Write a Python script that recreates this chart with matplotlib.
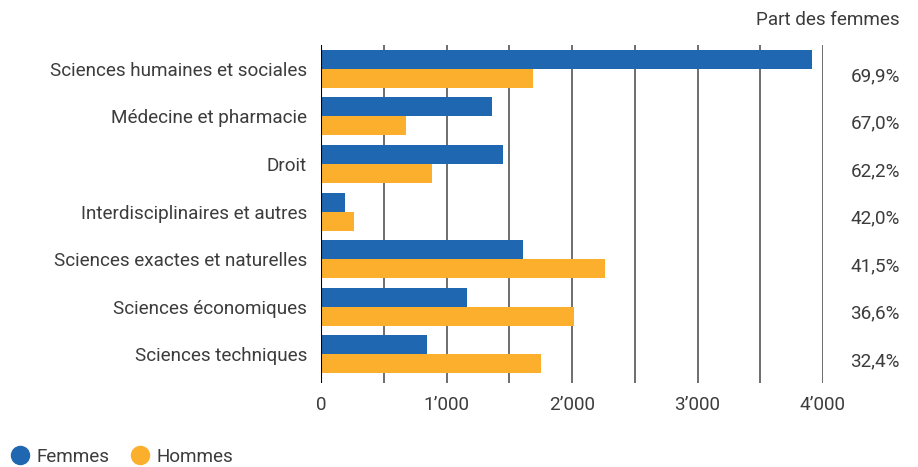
import numpy as np
import matplotlib.pyplot as plt
from matplotlib.lines import Line2D
from matplotlib.transforms import blended_transform_factory

plt.rcParams['font.family'] = ['Roboto', 'DejaVu Sans']

categories = ['Sciences humaines et sociales', 'Médecine et pharmacie', 'Droit',
              'Interdisciplinaires et autres', 'Sciences exactes et naturelles',
              'Sciences économiques', 'Sciences techniques']
femmes = [3910, 1365, 1450, 190, 1610, 1160, 845]
hommes = [1690, 675, 885, 265, 2265, 2015, 1750]
part_femmes = ['69,9%', '67,0%', '62,2%', '42,0%', '41,5%', '36,6%', '32,4%']
xticks = [0, 1000, 2000, 3000, 4000]
xticklabels = ['0', '1\u2019000', '2\u2019000', '3\u2019000', '4\u2019000']

blue = '#1f67b1'
orange = '#fcaf2d'
txt = '#3c3c3c'
fs = 13.6

fig = plt.figure(figsize=(9.18, 4.67), dpi=100)
ax = fig.add_axes([321 / 918, 1 - 383 / 467, (823 - 321) / 918, (383 - 45) / 467])

y = np.arange(len(categories))
h = 0.4
ax.barh(y - h / 2, femmes, height=h, color=blue, zorder=3)
ax.barh(y + h / 2, hommes, height=h, color=orange, zorder=3)

ax.set_xlim(0, 4000)
ax.set_ylim(6.61, -0.505)

for v in np.arange(500, 4001, 500):
    ax.axvline(v, color='#555555', lw=1.2, zorder=1)
ax.axvline(0, color='black', lw=1.5, zorder=4)

ax.set_xticks(xticks)
ax.set_xticklabels(xticklabels, fontsize=fs, color=txt)
ax.set_yticks(y)
ax.set_yticklabels(categories, fontsize=fs, color=txt)
ax.tick_params(axis='y', length=0, pad=10)
ax.tick_params(axis='x', length=0, pad=9)
for s in ax.spines.values():
    s.set_visible(False)

trans = blended_transform_factory(fig.transFigure, ax.transData)
for i, p in enumerate(part_femmes):
    ax.text(900 / 918, y[i] + 0.15, p, transform=trans,
            ha='right', va='center', fontsize=fs, color=txt)

fig.text(900 / 918, 1 - 20 / 467, 'Part des femmes', ha='right', va='center', fontsize=fs, color=txt)

handles = [Line2D([], [], marker='o', ls='', color=blue, markersize=13),
           Line2D([], [], marker='o', ls='', color=orange, markersize=13)]
fig.legend(handles, ['Femmes', 'Hommes'], loc='center left', bbox_to_anchor=(0.003, 1 - 457 / 467),
           ncol=2, frameon=False, fontsize=fs, handletextpad=0.4, columnspacing=1.1,
           labelcolor=txt, borderaxespad=0, handlelength=1.0)

fig.savefig('out.png', dpi=100)
